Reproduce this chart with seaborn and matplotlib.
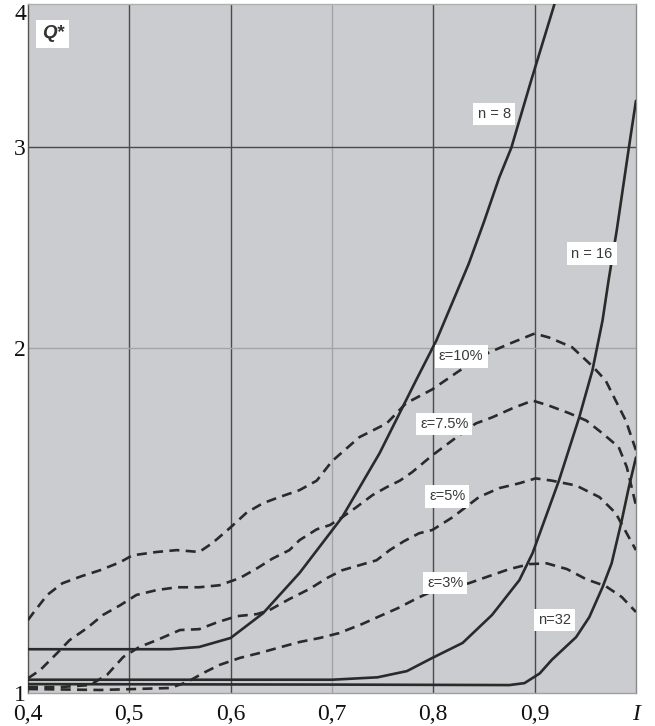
import matplotlib
matplotlib.use("Agg")
import matplotlib.pyplot as plt
from matplotlib.ticker import NullLocator, NullFormatter
import seaborn as sns
import pandas as pd

# ---- curve data: relative index I vs. Q* ----
I_n8 = [0.400, 0.540, 0.569, 0.600, 0.632, 0.668, 0.710, 0.747, 0.783, 0.803,
        0.835, 0.850, 0.865, 0.877, 0.8965, 0.919, 0.921]
Q_n8 = [1.092, 1.092, 1.097, 1.117, 1.174, 1.273, 1.424, 1.620, 1.876, 2.032,
        2.372, 2.580, 2.820, 2.995, 3.427, 3.983, 4.05]

I_n16 = [0.400, 0.600, 0.700, 0.745, 0.774, 0.799, 0.829, 0.858, 0.885, 0.898,
         0.924, 0.944, 0.957, 0.967, 0.973, 0.981, 0.993, 1.000]
Q_n16 = [1.027, 1.027, 1.027, 1.032, 1.045, 1.073, 1.106, 1.170, 1.255, 1.325,
         1.533, 1.741, 1.913, 2.115, 2.294, 2.535, 2.995, 3.292]

I_n32 = [0.400, 0.700, 0.875, 0.890, 0.905, 0.917, 0.941, 0.954, 0.967, 0.976,
         0.986, 0.993, 1.000]
Q_n32 = [1.018, 1.017, 1.016, 1.020, 1.040, 1.069, 1.119, 1.165, 1.237, 1.298,
         1.415, 1.513, 1.606]

I_e10 = [0.400, 0.405, 0.419, 0.434, 0.453, 0.471, 0.491, 0.503, 0.527, 0.547,
         0.569, 0.582, 0.599, 0.616, 0.632, 0.648, 0.668, 0.685, 0.700, 0.727,
         0.754, 0.773, 0.799, 0.826, 0.855, 0.878, 0.900, 0.914, 0.937, 0.957,
         0.970, 0.980, 0.990, 1.000]
Q_e10 = [1.158, 1.174, 1.218, 1.247, 1.265, 1.280, 1.301, 1.319, 1.328, 1.333,
         1.328, 1.352, 1.393, 1.438, 1.465, 1.483, 1.504, 1.533, 1.594, 1.673,
         1.720, 1.791, 1.842, 1.913, 1.984, 2.024, 2.061, 2.045, 2.005, 1.930,
         1.876, 1.801, 1.730, 1.630]

I_e75 = [0.400, 0.412, 0.429, 0.441, 0.458, 0.474, 0.491, 0.507, 0.527, 0.547,
         0.569, 0.589, 0.609, 0.626, 0.641, 0.658, 0.668, 0.685, 0.698, 0.710,
         0.724, 0.740, 0.754, 0.767, 0.779, 0.799, 0.823, 0.842, 0.858, 0.878,
         0.898, 0.914, 0.934, 0.951, 0.967, 0.983, 0.991, 1.000]
Q_e75 = [1.030, 1.047, 1.084, 1.112, 1.139, 1.170, 1.193, 1.218, 1.230, 1.237,
         1.237, 1.242, 1.260, 1.285, 1.310, 1.333, 1.360, 1.390, 1.402, 1.424,
         1.453, 1.489, 1.513, 1.533, 1.559, 1.613, 1.673, 1.720, 1.741, 1.773,
         1.801, 1.783, 1.756, 1.730, 1.686, 1.640, 1.575, 1.459]

I_e5 = [0.400, 0.432, 0.461, 0.478, 0.494, 0.510, 0.527, 0.550, 0.569, 0.587,
        0.606, 0.626, 0.638, 0.658, 0.678, 0.695, 0.710, 0.727, 0.744, 0.757,
        0.771, 0.786, 0.799, 0.819, 0.845, 0.865, 0.885, 0.901, 0.917, 0.941,
        0.964, 0.980, 0.993, 1.000]
Q_e5 = [1.012, 1.012, 1.016, 1.037, 1.075, 1.097, 1.112, 1.135, 1.137, 1.153,
        1.167, 1.172, 1.181, 1.208, 1.233, 1.260, 1.280, 1.293, 1.306, 1.333,
        1.357, 1.379, 1.388, 1.424, 1.483, 1.510, 1.525, 1.540, 1.533, 1.518,
        1.483, 1.436, 1.368, 1.333]

I_e3 = [0.400, 0.471, 0.540, 0.557, 0.573, 0.589, 0.609, 0.629, 0.650, 0.668,
        0.688, 0.707, 0.730, 0.747, 0.765, 0.784, 0.799, 0.835, 0.855, 0.875,
        0.895, 0.912, 0.932, 0.951, 0.970, 0.986, 1.000]
Q_e3 = [1.008, 1.006, 1.010, 1.022, 1.041, 1.058, 1.073, 1.084, 1.097, 1.108,
        1.117, 1.128, 1.149, 1.167, 1.186, 1.210, 1.227, 1.247, 1.265, 1.283,
        1.296, 1.298, 1.283, 1.257, 1.240, 1.213, 1.177]

x_ticks = [0.4, 0.5, 0.6, 0.7, 0.8, 0.9, 1.0]
x_tick_labels = ["0,4", "0,5", "0,6", "0,7", "0,8", "0,9", "I"]
y_ticks = [1, 2, 3, 4]
y_tick_labels = ["1", "2", "3", "4"]

curve_labels = ["n = 8", "n = 16", "n=32", "ε=10%", "ε=7.5%", "ε=5%", "ε=3%"]

# ---- figure ----
sns.set_style("white")
plt.rcParams["font.family"] = ["Liberation Sans", "DejaVu Sans"]

fig = plt.figure(figsize=(6.55, 7.26), dpi=100)
fig.patch.set_facecolor("white")
ax = fig.add_axes([0.0427, 0.0455, 0.9282, 0.949])
ax.set_facecolor("#cbcccf")

ax.set_yscale("log")
ax.set_xlim(0.4, 1.0)
ax.set_ylim(1.0, 4.0)

# grid: some lines dark, some faint
dark, light = "#4a4a4a", "#a4a4a6"
for xv, c in [(0.5, dark), (0.6, dark), (0.7, light), (0.8, dark), (0.9, dark)]:
    ax.axvline(xv, color=c, lw=1.0, zorder=1)
for yv, c in [(2, light), (3, dark)]:
    ax.axhline(yv, color=c, lw=1.0, zorder=1)

line_col = "#2a2a2a"
solid = [(I_n8, Q_n8), (I_n16, Q_n16), (I_n32, Q_n32)]
dashed = [(I_e10, Q_e10), (I_e75, Q_e75), (I_e5, Q_e5), (I_e3, Q_e3)]

for xs, ys in solid:
    df = pd.DataFrame({"I": xs, "Q": ys})
    sns.lineplot(data=df, x="I", y="Q", ax=ax, color=line_col, lw=1.9,
                 estimator=None, sort=False, zorder=3,
                 solid_joinstyle="round", solid_capstyle="round")
for xs, ys in dashed:
    df = pd.DataFrame({"I": xs, "Q": ys})
    sns.lineplot(data=df, x="I", y="Q", ax=ax, color=line_col, lw=1.9,
                 linestyle=(0, (3.8, 2.4)), estimator=None, sort=False, zorder=3,
                 dash_joinstyle="round")

ax.set_xlabel("")
ax.set_ylabel("")

# ticks
ax.yaxis.set_minor_locator(NullLocator())
ax.yaxis.set_minor_formatter(NullFormatter())
ax.set_yticks(y_ticks)
ax.set_yticklabels(y_tick_labels)
ax.set_xticks(x_ticks)
ax.set_xticklabels(x_tick_labels)
ax.tick_params(axis="both", length=0, labelsize=17, labelcolor="#111111")
ax.tick_params(axis="x", pad=8)
ax.tick_params(axis="y", pad=1.5)
for lab in ax.get_xticklabels() + ax.get_yticklabels():
    lab.set_family(["Liberation Serif", "DejaVu Serif"])
ax.get_xticklabels()[-1].set_style("italic")
ax.get_yticklabels()[-1].set_verticalalignment("top")

# frame
for side, c in [("left", "#555555"), ("bottom", "#a0a0a0"),
                ("top", "#b0b0b0"), ("right", "#8a8a8a")]:
    ax.spines[side].set_color(c)
    ax.spines[side].set_linewidth(1.0)

# curve labels in white boxes
box = dict(boxstyle="square,pad=0.28", fc="white", ec="none")
label_pos = [(0.860, 3.208), (0.9567, 2.421), (0.920, 1.158),
             (0.8276, 1.968), (0.8108, 1.717), (0.8138, 1.485), (0.8118, 1.247)]
for (lx, ly), txt in zip(label_pos, curve_labels):
    ax.text(lx, ly, txt, ha="center", va="center", fontsize=10.5,
            color="#3a3a3a", bbox=box, zorder=5)

ax.text(0.4246, 3.766, "Q*", ha="center", va="center", fontsize=13.5,
        fontweight="bold", fontstyle="italic", color="#333333",
        bbox=dict(boxstyle="square,pad=0.3", fc="white", ec="none"), zorder=5)

fig.savefig("out.png", dpi=100)
